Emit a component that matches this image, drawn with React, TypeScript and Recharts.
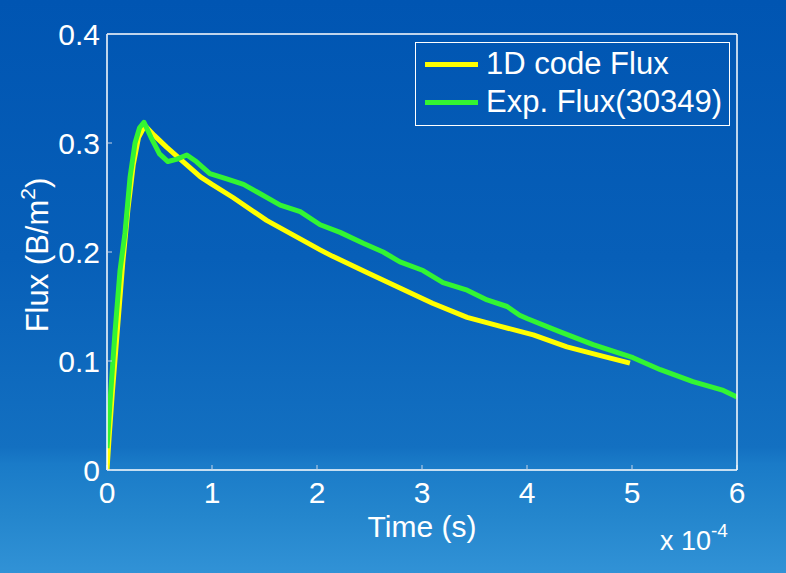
import React from "react";
import { LineChart, Line, XAxis, YAxis } from "recharts";

// time in units of 1e-4 s
const simTime = [0, 0.02, 0.05, 0.1, 0.15, 0.2, 0.25, 0.3, 0.36, 0.45, 0.57, 0.7, 0.89, 1.0, 1.2, 1.52, 1.84, 2.03, 2.15, 2.48, 2.79, 3.1, 3.43, 3.74, 4.06, 4.38, 4.7, 4.98];
const simFlux = [0, 0.03, 0.07, 0.13, 0.19, 0.24, 0.28, 0.305, 0.316, 0.307, 0.296, 0.285, 0.269, 0.262, 0.25, 0.229, 0.212, 0.202, 0.196, 0.181, 0.167, 0.153, 0.14, 0.132, 0.124, 0.113, 0.105, 0.098];

const expTime = [0, 0.03, 0.076, 0.124, 0.171, 0.22, 0.267, 0.31, 0.352, 0.42, 0.5, 0.58, 0.66, 0.76, 0.85, 0.98, 1.14, 1.3, 1.43, 1.65, 1.84, 2.03, 2.22, 2.44, 2.63, 2.79, 3.01, 3.2, 3.43, 3.62, 3.81, 3.93, 4.0, 4.31, 4.63, 5.01, 5.27, 5.58, 5.87, 6.0];
const expFlux = [0.02, 0.064, 0.126, 0.183, 0.217, 0.269, 0.3, 0.314, 0.319, 0.305, 0.29, 0.283, 0.285, 0.289, 0.283, 0.272, 0.267, 0.262, 0.255, 0.243, 0.237, 0.225, 0.218, 0.208, 0.2, 0.191, 0.183, 0.172, 0.165, 0.156, 0.15, 0.142, 0.139, 0.127, 0.115, 0.103, 0.092, 0.081, 0.073, 0.067];

const xTicks = [0, 1, 2, 3, 4, 5, 6];
const yTicks = [0, 0.1, 0.2, 0.3, 0.4];

const simData = simTime.map((t, i) => ({ t, v: simFlux[i] }));
const expData = expTime.map((t, i) => ({ t, v: expFlux[i] }));

const FONT = '"Liberation Sans", Arial, sans-serif';
const tickStyle = { fill: "#ffffff", fontSize: 30, fontFamily: FONT };
const tickLine = { stroke: "#c8d4e6", strokeWidth: 1 };

const legendItems = [
  { name: "1D code Flux", color: "#ffff00" },
  { name: "Exp. Flux(30349)", color: "#33f533" },
];

// legend drawn as an overlay so it doesn't eat plot space
const LegendBox = () => (
  <div
    style={{
      position: "absolute",
      left: 415,
      top: 42,
      width: 313,
      height: 82,
      border: "1px solid #ffffff",
      fontFamily: FONT,
      fontSize: 31,
      color: "#ffffff",
    }}
  >
    {legendItems.map((it, i) => (
      <div
        key={it.name}
        style={{ display: "flex", alignItems: "center", height: 38, marginTop: i === 0 ? 2 : 0 }}
      >
        <div style={{ width: 53, height: 5, background: it.color, marginLeft: 9, marginRight: 8 }} />
        <span style={{ lineHeight: "38px", whiteSpace: "nowrap" }}>{it.name}</span>
      </div>
    ))}
  </div>
);

const YLabel = () => (
  <text
    transform="translate(48, 255) rotate(-90)"
    textAnchor="middle"
    fill="#ffffff"
    fontSize={31}
    fontFamily={FONT}
  >
    Flux (B/m
    <tspan dy={-13} fontSize={21}>2</tspan>
    <tspan dy={13}>)</tspan>
  </text>
);

export default function App() {
  return (
    <div
      style={{
        position: "absolute",
        left: 0,
        top: 0,
        width: 786,
        height: 573,
        background:
          "linear-gradient(180deg, #0055b2 0%, #075fb8 45%, #1370c1 78%, #1a7bc8 81%, #2486cd 90%, #3192d6 100%)",
      }}
    >
      <LineChart width={786} height={573} margin={{ top: 0, right: 0, bottom: 0, left: 0 }}>
        <XAxis
          dataKey="t"
          type="number"
          domain={[0, 6]}
          ticks={xTicks}
          height={103}
          tickSize={-5}
          tickMargin={17}
          tick={tickStyle}
          tickLine={tickLine}
          axisLine={{ stroke: "#ffffff", strokeWidth: 1.5 }}
          allowDataOverflow
          label={{
            value: "Time (s)",
            position: "insideBottom",
            offset: 36,
            fill: "#ffffff",
            fontSize: 30,
            fontFamily: FONT,
          }}
        />
        <XAxis
          xAxisId="top"
          orientation="top"
          dataKey="t"
          type="number"
          domain={[0, 6]}
          ticks={xTicks}
          height={34}
          tickSize={-5}
          tickFormatter={() => ""}
          tickLine={tickLine}
          axisLine={{ stroke: "#ffffff", strokeWidth: 1.5 }}
        />
        <YAxis
          type="number"
          domain={[0, 0.4]}
          ticks={yTicks}
          width={107}
          tickSize={-5}
          tickMargin={12}
          tick={tickStyle}
          tickLine={tickLine}
          tickFormatter={(v: number) => (v === 0 ? "0" : v.toFixed(1))}
          axisLine={{ stroke: "#ffffff", strokeWidth: 1.5 }}
          allowDataOverflow
          label={{ content: () => <YLabel /> }}
        />
        <YAxis
          yAxisId="right"
          orientation="right"
          type="number"
          domain={[0, 0.4]}
          ticks={yTicks}
          width={49}
          tickSize={-5}
          tickFormatter={() => ""}
          tickLine={tickLine}
          axisLine={{ stroke: "#ffffff", strokeWidth: 1.5 }}
        />
        <Line
          data={simData}
          dataKey="v"
          type="linear"
          stroke="#ffff00"
          strokeWidth={5}
          dot={false}
          strokeLinejoin="round"
          isAnimationActive={false}
        />
        <Line
          data={expData}
          dataKey="v"
          type="linear"
          stroke="#33f533"
          strokeWidth={5}
          dot={false}
          strokeLinejoin="round"
          isAnimationActive={false}
        />
        <text x={660} y={550} fill="#ffffff" fontSize={27} fontFamily={FONT}>
          x 10
          <tspan dy={-13} fontSize={19}>-4</tspan>
        </text>
      </LineChart>
      <LegendBox />
    </div>
  );
}
